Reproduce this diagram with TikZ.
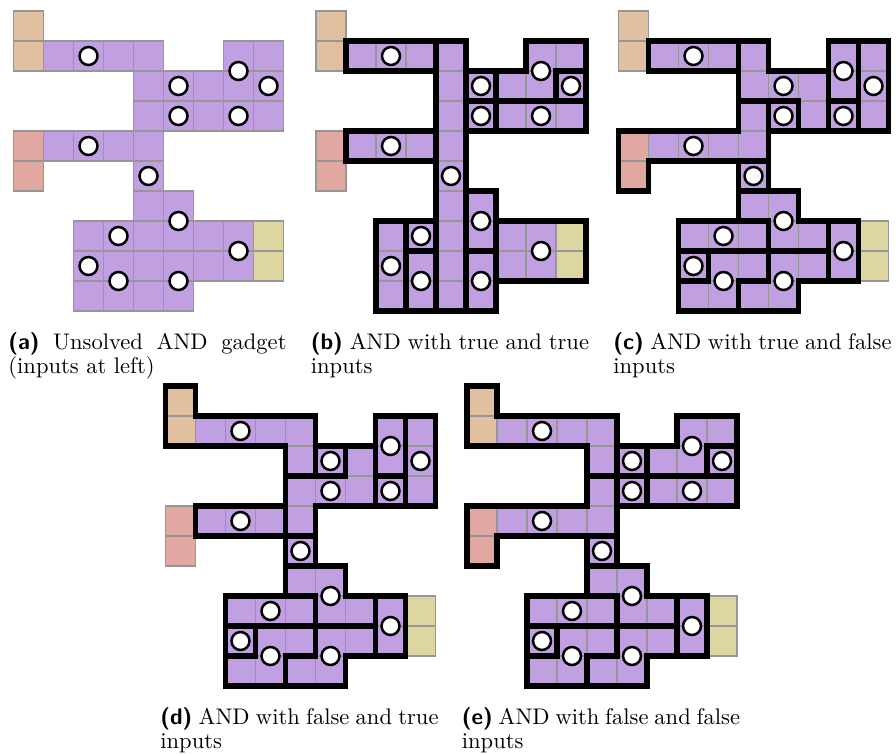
\documentclass[tikz,border=0pt]{standalone}
\usepackage{fontspec}
\setlength\parindent{0pt}
\definecolor{cU}{RGB}{192,160,224}
\definecolor{cT}{RGB}{224,192,160}
\definecolor{cP}{RGB}{224,168,160}
\definecolor{cY}{RGB}{222,214,160}
\definecolor{gridgray}{RGB}{150,150,150}
\newlength\pxu \setlength\pxu{0.4854pt}
\newlength\cellu \setlength\cellu{14.562pt}
\def\emptyv{0}
\newcommand\storemap[2]{%
  \foreach \rowlist [count=\rr from 0] in {#2}{%
    \foreach \vv [count=\cc from 0] in \rowlist {%
      \expandafter\xdef\csname m-#1-\cc-\rr\endcsname{\vv}%
    }%
  }%
}
\newcommand\getreg[4]{%
  \ifcsname m-#2-#3-#4\endcsname
    \edef#1{\csname m-#2-#3-#4\endcsname}%
  \else\def#1{0}\fi}
\newcommand\drawcells{%
  \foreach \rr in {0,...,9}{\foreach \cc in {0,...,8}{%
    \getreg\typ{base}{\cc}{\rr}%
    \ifx\typ\emptyv\else
      \edef\colname{c\typ}%
      \filldraw[fill=\colname, gridline] (\cc,\rr) rectangle ++(1,1);
    \fi}}}
\newcommand\drawregions[1]{%
  \foreach \rr in {-1,...,9}{\foreach \cc in {-1,...,8}{%
    \pgfmathtruncatemacro\cn{\cc+1}%
    \pgfmathtruncatemacro\rn{\rr+1}%
    \getreg\ra{#1}{\cc}{\rr}%
    \getreg\rb{#1}{\cn}{\rr}%
    \getreg\rd{#1}{\cc}{\rn}%
    \ifx\ra\rb\else\draw[regline] (\cn,\rr) -- (\cn,\rn);\fi
    \ifx\ra\rd\else\draw[regline] (\cc,\rn) -- (\cn,\rn);\fi
  }}}
\newcommand\drawdots{%
  \foreach \p in {(2.5,1.5),(7.5,2),(8.5,2.5),(5.5,2.5),(5.5,3.5),(7.5,3.5),(2.5,4.5),(4.5,5.5),(5.5,7),(3.5,7.5),(7.5,8),(2.5,8.5),(3.5,9),(5.5,9)}{%
    \filldraw[dotst] \p circle[radius=0.3];}}
% base map
\storemap{base}{{T,0,0,0,0,0,0,0,0},{T,U,U,U,U,0,0,U,U},{0,0,0,0,U,U,U,U,U},{0,0,0,0,U,U,U,U,U},{P,U,U,U,U,0,0,0,0},{P,0,0,0,U,0,0,0,0},{0,0,0,0,U,U,0,0,0},{0,0,U,U,U,U,U,U,Y},{0,0,U,U,U,U,U,U,Y},{0,0,U,U,U,U,0,0,0}}
\storemap{b}{{0,0,0,0,0,0,0,0,0},{0,A,A,A,B,0,0,F,F},{0,0,0,0,B,D,F,F,G},{0,0,0,0,B,E,H,H,H},{0,C,C,C,B,0,0,0,0},{0,0,0,0,B,0,0,0,0},{0,0,0,0,B,I,0,0,0},{0,0,L,M,B,I,K,K,K},{0,0,L,N,B,J,K,K,K},{0,0,L,N,B,J,0,0,0}}
\storemap{c}{{0,0,0,0,0,0,0,0,0},{0,A,A,A,F,0,0,P,R},{0,0,0,0,F,F,F,P,R},{0,0,0,0,C,E,F,Q,R},{C,C,C,C,C,0,0,0,0},{C,0,0,0,S,0,0,0,0},{0,0,0,0,I,I,0,0,0},{0,0,M,M,M,I,I,K,0},{0,0,L,N,N,J,J,K,0},{0,0,N,N,J,J,0,0,0}}
\storemap{d}{{D,0,0,0,0,0,0,0,0},{D,D,D,D,D,0,0,P,R},{0,0,0,0,D,E,T,P,R},{0,0,0,0,T,T,T,Q,R},{0,C,C,C,T,0,0,0,0},{0,0,0,0,S,0,0,0,0},{0,0,0,0,I,I,0,0,0},{0,0,M,M,M,I,I,K,0},{0,0,L,N,N,J,J,K,0},{0,0,N,N,J,J,0,0,0}}
\storemap{e}{{D,0,0,0,0,0,0,0,0},{D,D,D,D,D,0,0,F,F},{0,0,0,0,D,X,F,F,G},{0,0,0,0,C,Z,H,H,H},{C,C,C,C,C,0,0,0,0},{C,0,0,0,S,0,0,0,0},{0,0,0,0,I,I,0,0,0},{0,0,M,M,M,I,I,K,0},{0,0,L,N,N,J,J,K,0},{0,0,N,N,J,J,0,0,0}}
\tikzset{
  gridline/.style={draw=gridgray, line width=0.5pt},
  regline/.style={draw=black, line width=2.45pt, line cap=rect},
  dotst/.style={fill=white, draw=black, line width=1.2pt},
  captext/.style={anchor=north west, inner sep=0pt, text width=135pt, align=justify, font=\fontsize{10.95pt}{11.65pt}\selectfont}
}
\begin{document}
\begin{tikzpicture}[x=\pxu,y=-\pxu]
\useasboundingbox (0,0) rectangle (896,754);
% (a)
\begin{scope}[shift={(13.5,11)}, x=\cellu, y=-\cellu]
  \drawcells \drawdots
\end{scope}
% (b)
\begin{scope}[shift={(316,11)}, x=\cellu, y=-\cellu]
  \drawcells \drawregions{b} \drawdots
\end{scope}
% (c)
\begin{scope}[shift={(618.5,11)}, x=\cellu, y=-\cellu]
  \drawcells \drawregions{c} \drawdots
\end{scope}
% (d)
\begin{scope}[shift={(165.5,386)}, x=\cellu, y=-\cellu]
  \drawcells \drawregions{d} \drawdots
\end{scope}
% (e)
\begin{scope}[shift={(467,386)}, x=\cellu, y=-\cellu]
  \drawcells \drawregions{e} \drawdots
\end{scope}
\node[captext] (capa) at (8,332) {{\sffamily\bfseries (a)} Unsolved AND gadget\linebreak (inputs at left)};
\node[captext] (capb) at (310.5,332) {{\sffamily\bfseries (b)} AND with true and true\linebreak inputs};
\node[captext] (capc) at (613,332) {{\sffamily\bfseries (c)} AND with true and false\linebreak inputs};
\node[captext] (capd) at (160,707) {{\sffamily\bfseries (d)} AND with false and true\linebreak inputs};
\node[captext] (cape) at (461.5,707) {{\sffamily\bfseries (e)} AND with false and false\linebreak inputs};
\end{tikzpicture}
\end{document}
